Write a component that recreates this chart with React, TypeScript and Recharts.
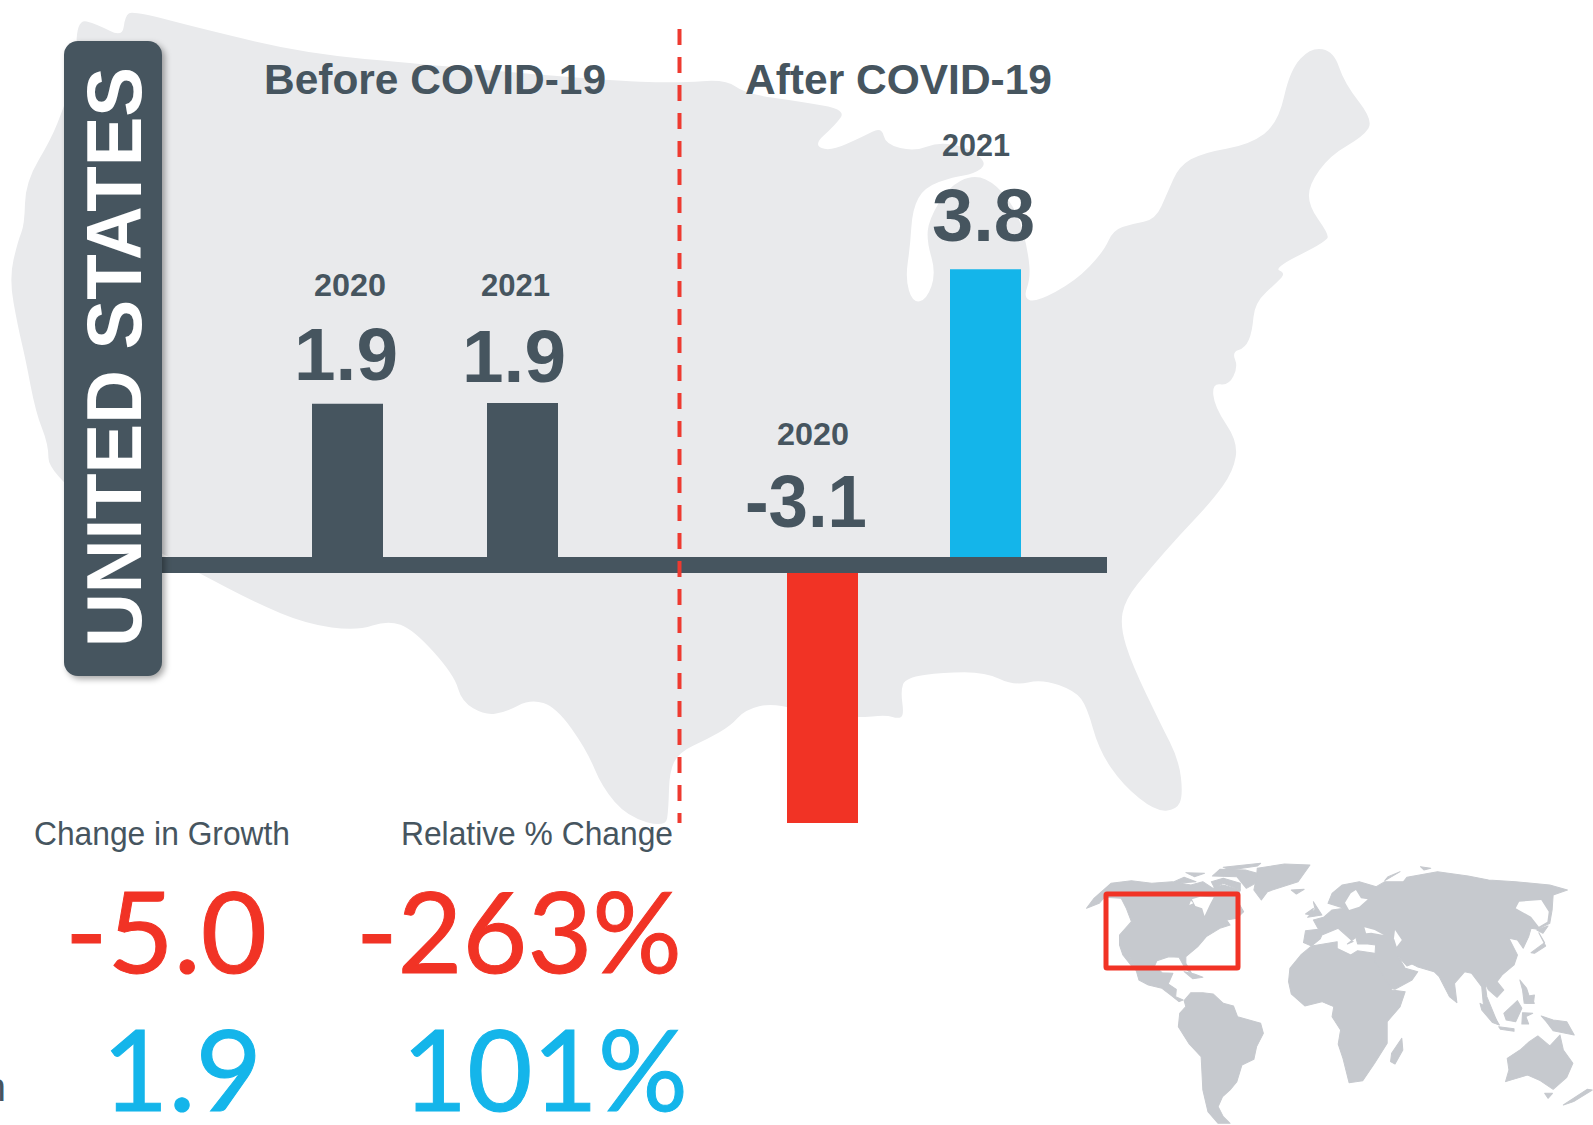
import { Bar, BarChart, Cell, ReferenceLine, XAxis, YAxis } from "recharts";

const DARK = "#46555f";
const BLUE = "#14b5ea";
const RED = "#f13325";
const MAP_LIGHT = "#e9eaec";
const MAP_WORLD = "#c6c9ce";

const years = ["2020", "2021"];
const beforeLabels = ["1.9", "1.9"];
const afterLabels = ["-3.1", "3.8"];
// bar lengths as drawn in the picture: the source's bars are not quite to scale with their labels
const beforeBars = [1.92, 1.93];
const afterBars = [-3.07, 3.52];
const changeValues = ["-5.0", "1.9"];
const relativeValues = ["-263%", "101%"];

const beforeData = years.map((year, i) => ({ year, value: beforeBars[i] }));
const afterData = years.map((year, i) => ({ year, value: afterBars[i] }));

type Pt = number[];

// closed outline smoothed through the midpoints
const smooth = (pts: Pt[]) => {
    const mid = (a: Pt, b: Pt) => [(a[0] + b[0]) / 2, (a[1] + b[1]) / 2];
    let d = "";
    pts.forEach((p, i) => {
        const next = pts[(i + 1) % pts.length];
        const m = mid(p, next);
        if (i === 0) {
            const start = mid(pts[pts.length - 1], p);
            d += `M${start[0]} ${start[1]}`;
        }
        d += `Q${p[0]} ${p[1]} ${m[0]} ${m[1]}`;
    });
    return d + "Z";
};

const poly = (pts: Pt[]) => "M" + pts.map((p) => p.join(" ")).join("L") + "Z";

const westNorth: Pt[] = [[150, 35], [190, 45], [240, 70], [245, 30], [260, 20], [400, 55], [600, 100], [830, 120], [1180, 150], [1330, 155]];
const eastCoast: Pt[] = [
    [140, 148], [180, 175], [300, 190], [395, 205], [370, 235], [325, 270], [360, 283], [430, 255], [470, 237], [478, 270],
    [540, 283], [590, 265], [650, 275], [695, 305], [665, 325], [622, 330], [560, 350], [535, 390], [530, 460], [520, 520],
    [535, 565], [565, 560], [585, 510], [565, 450], [570, 410], [610, 350], [665, 325], [715, 345], [760, 400], [780, 470], [785, 520], [770, 555],
    [795, 565], [880, 525], [940, 470], [960, 430], [1000, 418], [1050, 410], [1075, 360], [1100, 310], [1150, 285], [1250, 270],
    [1310, 230], [1335, 130], [1380, 88], [1428, 96], [1450, 155], [1512, 225], [1490, 255], [1420, 290], [1375, 345], [1375, 385],
    [1415, 435], [1415, 450], [1300, 500], [1325, 510], [1310, 525], [1260, 565], [1255, 620], [1240, 650], [1212, 657], [1225, 685],
    [1205, 720], [1170, 715], [1175, 760], [1225, 825], [1215, 880], [1170, 935], [1100, 1000], [1040, 1060], [985, 1120], [975, 1170],
    [1000, 1240], [1060, 1350], [1100, 1420], [1108, 1485], [1095, 1512], [1050, 1515], [980, 1465], [930, 1400], [905, 1320], [880, 1290],
    [810, 1268], [750, 1280], [690, 1255], [600, 1255], [520, 1265], [510, 1290], [517, 1335], [505, 1342], [480, 1335], [420, 1340],
    [330, 1335], [240, 1312], [180, 1325], [150, 1355], [100, 1380], [40, 1405], [20, 1440], [18, 1510],
];
const westSouth: Pt[] = [
    [1305, 1545], [1230, 1525], [1180, 1470], [1150, 1400], [1090, 1320], [1040, 1305], [990, 1330], [950, 1335], [905, 1310], [890, 1260],
    [810, 1175], [760, 1158], [700, 1178], [600, 1165], [500, 1125], [390, 1070], [250, 1000], [95, 880], [95, 830], [70, 770],
    [50, 670], [35, 610], [18, 520], [35, 450], [48, 420], [50, 340], [100, 260], [125, 200], [150, 130],
];
const usOutline: Pt[] = [
    ...westNorth.map(([x, y]) => [x / 1.96, y / 1.867]),
    ...eastCoast.map(([x, y]) => [660 + x / 2.119, y / 1.867]),
    ...westSouth.map(([x, y]) => [x / 1.96, y / 1.867]),
];

const worldLand: Pt[][] = [
    // north america
    [[78, 205], [100, 175], [150, 130], [210, 122], [270, 130], [330, 125], [385, 135], [420, 125], [450, 145], [480, 135], [530, 150], [520, 180], [540, 215], [520, 235], [490, 240], [500, 255], [470, 265], [430, 290], [405, 320], [370, 350], [370, 370], [388, 402], [368, 385], [350, 352], [320, 350], [285, 362], [278, 378], [300, 398], [332, 400], [318, 432], [342, 448], [340, 470], [362, 480], [350, 485], [325, 465], [300, 445], [260, 435], [232, 420], [225, 395], [203, 345], [218, 388], [185, 345], [175, 315], [175, 285], [210, 245], [195, 205], [180, 175], [130, 172], [115, 190]],
    // south america
    [[365, 482], [385, 458], [420, 458], [450, 462], [480, 490], [510, 498], [522, 530], [590, 550], [598, 580], [578, 620], [570, 658], [535, 675], [520, 725], [500, 750], [478, 770], [465, 800], [480, 830], [500, 850], [465, 850], [435, 815], [420, 750], [415, 650], [380, 612], [348, 560], [352, 520], [370, 500]],
    // africa
    [[676, 385], [708, 345], [740, 318], [815, 305], [815, 325], [855, 345], [875, 332], [925, 340], [932, 370], [975, 450], [1015, 455], [1000, 500], [962, 545], [962, 610], [925, 670], [890, 722], [850, 728], [832, 655], [818, 612], [825, 570], [800, 530], [805, 500], [770, 485], [720, 498], [680, 462], [672, 425]],
    // eurasia
    [[716, 308], [722, 272], [760, 268], [745, 240], [775, 232], [800, 210], [835, 205], [788, 190], [800, 160], [830, 135], [880, 125], [930, 140], [955, 125], [1010, 125], [1020, 112], [1110, 95], [1200, 108], [1260, 120], [1340, 125], [1440, 135], [1492, 150], [1450, 165], [1447, 210], [1440, 250], [1405, 268], [1385, 265], [1378, 290], [1362, 325], [1345, 300], [1320, 295], [1345, 345], [1335, 375], [1300, 405], [1285, 425], [1305, 450], [1285, 472], [1260, 450], [1250, 430], [1255, 470], [1288, 552], [1270, 540], [1245, 495], [1240, 440], [1210, 400], [1190, 395], [1160, 430], [1167, 488], [1145, 470], [1115, 410], [1100, 395], [1050, 380], [1035, 372], [1020, 378], [995, 350], [1015, 385], [1052, 395], [1035, 420], [985, 448], [972, 445], [925, 362], [928, 315], [905, 312], [875, 312], [870, 292], [845, 312], [862, 305], [818, 265], [770, 285], [765, 297], [740, 318]],
    // australia
    [[1315, 655], [1355, 628], [1380, 605], [1405, 588], [1440, 618], [1470, 585], [1480, 630], [1508, 670], [1490, 712], [1450, 748], [1412, 722], [1375, 705], [1310, 725], [1320, 690]],
    // greenland, iceland, uk, ireland, madagascar
    [[580, 85], [660, 72], [735, 75], [700, 125], [610, 155], [592, 180], [570, 150], [578, 110]],
    [[680, 150], [718, 148], [695, 162]],
    [[745, 185], [770, 225], [728, 232], [750, 208]],
    [[722, 222], [745, 205], [740, 225]],
    [[975, 640], [1005, 595], [1008, 630], [985, 672], [972, 665]],
    // canadian arctic
    [[335, 125], [365, 112], [400, 125], [345, 130]],
    [[370, 98], [425, 100], [395, 110]],
    [[445, 125], [480, 115], [530, 130], [530, 150], [480, 130], [455, 145]],
    [[448, 108], [470, 88], [545, 90], [580, 100], [575, 130], [548, 145], [520, 110]],
    [[480, 82], [590, 70], [580, 78], [500, 90]],
    // novaya zemlya, svalbard area
    [[955, 122], [1000, 95], [965, 110]],
    [[1060, 80], [1090, 85], [1070, 90]],
    // japan, sakhalin, philippines, sumatra, java, borneo, sulawesi, new guinea, new zealand, tasmania, cuba
    [[1385, 338], [1425, 308], [1408, 278], [1428, 318], [1395, 340]],
    [[1402, 270], [1435, 258], [1420, 280]],
    [[1352, 420], [1372, 445], [1380, 470], [1395, 490], [1365, 490], [1360, 450]],
    [[1235, 490], [1262, 505], [1292, 555], [1272, 548], [1240, 510]],
    [[1290, 560], [1335, 566], [1335, 574], [1295, 568]],
    [[1305, 520], [1345, 482], [1358, 505], [1340, 545], [1312, 540]],
    [[1360, 518], [1390, 520], [1370, 530], [1378, 552], [1358, 552]],
    [[1415, 528], [1450, 540], [1490, 545], [1512, 585], [1450, 572], [1430, 545]],
    [[1480, 795], [1550, 748], [1565, 750], [1510, 785]],
    [[1425, 760], [1448, 760], [1435, 775]],
    [[365, 395], [395, 402], [420, 412], [390, 416]],
    [[1365, 470], [1395, 465], [1392, 490], [1370, 490]],
];

const worldWater: Pt[][] = [
    [[388, 178], [412, 170], [452, 172], [440, 195], [425, 228], [418, 205], [398, 198]],
    [[895, 262], [925, 270], [952, 285], [915, 278], [900, 280]],
    [[870, 150], [885, 175], [905, 178], [880, 200], [850, 210], [838, 188], [855, 160]],
    [[985, 270], [1005, 300], [990, 320], [982, 295]],
    [[1340, 205], [1350, 185], [1415, 180], [1437, 215], [1433, 245], [1408, 260], [1385, 230]],
    [[385, 182], [392, 190], [380, 195]],
];

const BarPanel = ({ data, colors, left, width, paddingLeft, paddingRight }: {
    data: { year: string, value: number }[], colors: string[], left: number, width: number, paddingLeft: number, paddingRight: number,
}) => (
    <div style={{ position: "absolute", left, top: 145 }}>
        <BarChart width={width} height={756} data={data} margin={{ top: 0, right: 0, bottom: 0, left: 0 }}>
            <XAxis dataKey="year" hide padding={{ left: paddingLeft, right: paddingRight }} />
            <YAxis hide domain={[-4, 5]} />
            <Bar dataKey="value" barSize={71} isAnimationActive={false}>
                {data.map((entry, i) => <Cell key={entry.year + i} fill={colors[i]} />)}
            </Bar>
            <ReferenceLine y={0} stroke={DARK} strokeWidth={16} />
        </BarChart>
    </div>
);

const fit = (text: string, x: number, y: number, length: number, size: number, fill: string, weight = 700, family = "'Liberation Sans', Arial, sans-serif", stroke = 0) => (
    <text key={text + x} x={x} y={y} textLength={length} lengthAdjust="spacingAndGlyphs" fontSize={size} fontWeight={weight} fontFamily={family} fill={fill} stroke={stroke ? fill : "none"} strokeWidth={stroke}>{text}</text>
);

function App() {
    const big = "Lato, sans-serif";
    return (
        <div style={{ position: "absolute", left: 0, top: 0, width: 1593, height: 1125, overflow: "hidden", background: "#fff" }}>
            <svg width={1593} height={1125} style={{ position: "absolute", left: 0, top: 0 }}>
                <path d={smooth(usOutline)} fill={MAP_LIGHT} />
                <g transform="translate(1060,840) scale(0.3401,0.3333)">
                    {worldLand.map((pts, i) => <path key={i} d={poly(pts)} fill={MAP_WORLD} stroke={MAP_WORLD} strokeWidth={3} strokeLinejoin="round" />)}
                    {worldWater.map((pts, i) => <path key={i} d={poly(pts)} fill="#fff" />)}
                </g>
                <rect x={1106} y={894} width={132} height={74} rx={1} fill="none" stroke={RED} strokeWidth={5} />
            </svg>

            <BarPanel data={beforeData} colors={[DARK, DARK]} left={162} width={518} paddingLeft={98} paddingRight={70} />
            <BarPanel data={afterData} colors={[RED, BLUE]} left={680} width={427} paddingLeft={61} paddingRight={40} />

            <svg width={1593} height={1125} style={{ position: "absolute", left: 0, top: 0 }}>
                <line x1={679.5} y1={29} x2={679.5} y2={823} stroke="#ee3a30" strokeWidth={4} strokeDasharray="16 12" />
                <rect x={64} y={41} width={98} height={635} rx={14} fill={DARK} style={{ filter: "drop-shadow(3px 3px 3px rgba(0,0,0,0.35))" }} />
                <g transform="translate(141,647) rotate(-90)">
                    {fit("UNITED STATES", 0, 0, 580, 78, "#fff")}
                </g>

                {fit("Before COVID-19", 264, 94, 342, 43, DARK)}
                {fit("After COVID-19", 745, 94, 307, 43, DARK)}

                {fit(years[0], 314, 296, 72, 32, DARK)}
                {fit(years[1], 481, 296, 69, 32, DARK)}
                {fit(years[0], 777, 445, 72, 32, DARK)}
                {fit(years[1], 942, 156, 68, 32, DARK)}

                {fit(beforeLabels[0], 294, 380, 104, 74, DARK)}
                {fit(beforeLabels[1], 462, 382, 104, 74, DARK)}
                {fit(afterLabels[0], 745, 527, 122, 74, DARK)}
                {fit(afterLabels[1], 932, 241, 103, 74, DARK)}

                {fit("Change in Growth", 34, 845, 256, 33, DARK, 400)}
                {fit("Relative % Change", 401, 845, 272, 33, DARK, 400)}

                {fit(changeValues[0], 65, 973, 202, 113, RED, 400, big, 1)}
                {fit(relativeValues[0], 356, 973, 326, 113, RED, 400, big, 1)}
                {fit(changeValues[1], 102, 1111, 160, 113, BLUE, 400, big, 1)}
                {fit(relativeValues[1], 402, 1111, 286, 113, BLUE, 400, big, 1)}

                <text x={6} y={1101} textAnchor="end" fontSize={40} fontFamily="'Liberation Sans', Arial, sans-serif" fill={DARK}>n</text>
            </svg>
        </div>
    );
}

export default App;
